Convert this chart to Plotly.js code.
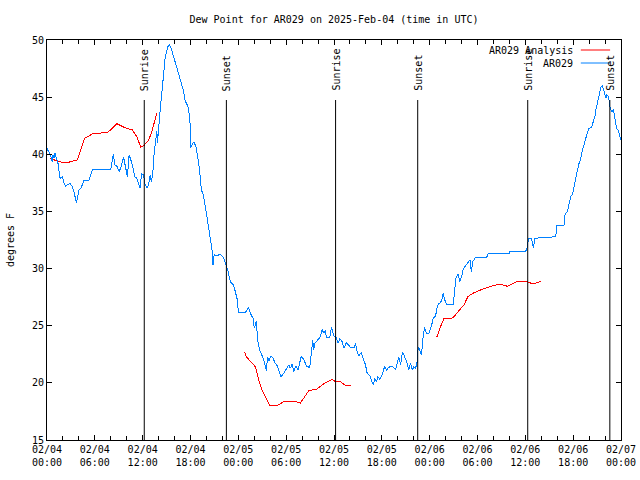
<!DOCTYPE html>
<html>
<head>
<meta charset="utf-8">
<script src="https://cdn.plot.ly/plotly-3.0.1.min.js"></script>
<style>html,body{margin:0;padding:0;background:#fff;}#chart{width:640px;height:480px;}
#chart .scatterlayer path.js-line{shape-rendering:crispEdges;}</style>
</head>
<body>
<div id="chart"></div>
<script>
// Hours since 2025-02-04 00:00 UTC
const startTime = "2025-02-04T00:00:00Z";

const obsHours = [0.0,0.25,0.46,0.67,0.75,0.88,1.0,1.17,1.38,1.63,1.92,2.14,2.35,2.55,2.89,3.18,3.39,3.69,3.9,4.02,4.31,4.65,5.28,5.7,8.0,8.2,8.33,8.5,8.75,9.05,9.33,9.59,9.76,10.09,10.3,10.59,10.84,11.02,11.27,11.56,11.68,11.85,12.1,12.31,12.6,12.81,12.94,13.1,13.28,13.44,13.66,13.78,13.85,13.98,14.2,14.41,14.61,14.82,15.11,15.33,15.54,15.87,16.29,16.71,17.12,17.34,17.75,17.96,18.05,18.25,18.47,18.72,18.93,19.13,19.35,19.64,19.85,20.06,20.27,20.48,20.69,20.82,20.98,21.23,21.73,22.15,22.36,22.65,22.99,23.4,23.62,23.83,24.03,24.87,25.29,25.5,25.84,26.0,26.26,26.42,26.67,26.97,27.18,27.39,27.51,27.68,27.85,28.1,28.35,28.64,28.94,29.18,29.36,29.7,30.03,30.32,30.53,30.74,30.95,31.2,31.5,31.87,32.2,32.54,32.96,33.17,33.33,33.46,33.58,33.96,34.3,34.51,34.71,34.92,35.05,35.46,35.68,35.97,36.18,36.31,36.47,36.6,36.72,37.02,37.22,37.56,37.85,38.07,38.57,38.69,38.91,39.11,39.41,39.74,39.95,40.16,40.49,40.67,40.92,41.12,41.33,41.5,41.75,42.05,42.34,42.59,42.88,43.3,43.72,43.93,44.13,44.35,44.6,44.85,45.1,45.39,45.6,45.82,46.02,46.23,46.44,46.57,46.77,46.98,47.2,47.36,47.61,47.9,48.2,48.45,48.74,48.95,49.16,49.37,49.58,49.7,49.87,50.08,50.96,51.13,51.29,51.55,51.8,52.01,52.18,52.43,52.64,52.93,53.06,53.23,53.39,53.77,55.15,55.32,57.96,58.08,60.05,60.26,60.39,60.77,61.02,61.18,63.82,63.94,64.86,64.99,65.29,65.49,65.7,65.92,66.12,66.33,66.54,66.74,66.96,67.17,67.37,67.59,67.8,68.0,68.3,68.5,68.72,68.84,69.06,69.26,69.47,69.69,69.89,70.1,70.22,70.44,70.64,70.82,71.07,71.23,71.44,71.65,71.86,71.99];
const obsDew = [40.5,40.2,39.9,39.35,39.94,39.65,40.08,39.65,39.2,37.9,38.04,37.46,37.23,37.31,37.46,37.17,36.73,35.71,36.29,36.88,37.11,37.75,37.75,38.63,38.69,39.35,40.0,39.06,38.98,38.48,38.98,39.79,39.06,38.04,39.94,39.35,38.63,38.04,37.9,37.31,37.03,38.28,38.19,37.31,37.03,37.6,38.19,37.6,38.39,40.14,41.6,42.04,41.0,42.48,43.94,45.39,47.14,48.45,49.33,49.62,49.33,48.45,47.58,46.56,45.54,44.66,44.08,42.62,40.58,40.96,41.02,40.58,39.56,38.69,36.94,36.35,35.48,34.6,33.73,32.85,31.69,30.29,31.25,31.1,31.25,30.95,30.52,29.94,28.86,28.56,27.98,27.4,26.14,26.14,26.58,26.09,25.65,24.77,25.44,23.75,22.88,22.29,22.06,21.42,21.07,22.29,21.94,22.35,22.15,21.71,21.42,20.84,20.55,20.84,21.28,21.57,21.28,21.65,20.98,21.48,21.13,22.29,22.06,21.48,21.33,22.88,23.75,22.88,23.46,23.75,24.04,24.69,24.34,24.63,23.96,23.96,24.87,24.1,24.04,23.9,23.52,23.6,23.9,23.6,23.02,23.52,23.31,23.11,23.11,23.46,22.73,22.35,22.64,22.0,21.57,20.84,20.63,20.25,19.82,20.4,20.1,20.55,20.32,20.69,21.42,21.13,21.36,21.48,21.13,21.71,22.29,21.57,22.73,22.29,21.85,21.13,21.71,21.13,21.42,21.28,21.85,23.16,22.88,22.44,24.19,24.86,24.34,24.34,24.92,25.65,25.85,26.67,26.96,27.02,27.4,27.89,27.31,26.9,26.9,27.98,29.15,29.53,28.86,29.3,29.88,30.17,30.4,30.6,30.75,29.73,30.6,30.99,30.99,31.28,31.28,31.51,31.51,31.92,32.65,32.65,31.77,32.65,32.79,33.73,33.81,34.75,34.98,35.71,36.29,36.53,37.31,38.04,38.63,39.21,39.65,40.38,40.81,41.4,41.98,42.27,42.36,42.85,43.29,43.87,44.6,45.48,45.86,45.98,45.48,44.9,45.19,45.04,44.02,43.73,43.87,43.0,42.27,42.13,41.54,41.25];

const anaHours = [0.4,0.67,1.5,2.35,2.97,3.8,4.23,4.73,5.7,6.53,7.58,8.0,8.75,9.67,10.7,11.27,11.77,12.19,12.69,13.1,13.44,13.78,null,24.79,25.0,25.72,26.13,26.55,26.97,27.39,27.93,28.86,29.7,30.95,31.78,32.2,32.83,33.88,34.92,35.76,36.18,36.8,37.4,38.07,null,48.74,48.95,49.37,49.79,50.63,51.05,51.67,52.3,52.8,53.56,54.4,55.24,56.07,56.91,57.75,58.8,60.26,61.0,61.93];
const anaDew = [39.65,39.56,39.35,39.24,39.33,39.5,40.38,41.4,41.78,41.84,41.92,42.13,42.68,42.36,42.13,41.54,40.61,40.79,41.19,41.84,42.8,43.64,null,22.67,22.29,21.71,21.42,20.25,19.38,18.79,18.0,18.0,18.35,18.39,18.24,18.65,19.32,19.47,20.02,20.31,20.1,20.1,19.8,19.73,null,24.1,24.1,24.92,25.62,25.59,25.79,26.32,26.82,27.55,27.89,28.13,28.33,28.54,28.63,28.45,28.83,28.83,28.65,28.89];

const sunHours = [12.2,22.5,36.2,46.5,60.3,70.6];
const sunLabels = ["Sunrise","Sunset","Sunrise","Sunset","Sunrise","Sunset"];

const seriesNames = ["AR029 Analysis","AR029"];
const seriesColors = ["#ff0000","#0080ff"];

function toDate(h) {
  if (h === null) return null;
  const d = new Date(Date.parse(startTime) + h * 3600000);
  return d.toISOString().replace("T"," ").slice(0,19);
}

const FONT = {family: "DejaVu Sans Mono, monospace", size: 10, color: "#000"};

const traces = [
  {x: anaHours.map(toDate), y: anaDew, type: "scatter", mode: "lines", name: seriesNames[0],
   line: {color: seriesColors[0], width: 1}, connectgaps: false, hoverinfo: "skip"},
  {x: obsHours.map(toDate), y: obsDew, type: "scatter", mode: "lines", name: seriesNames[1],
   line: {color: seriesColors[1], width: 1}, hoverinfo: "skip"}
];

const shapes = sunHours.map(h => ({
  type: "line", xref: "x", yref: "paper", x0: toDate(h), x1: toDate(h), y0: 0, y1: 0.85,
  line: {color: "#000", width: 1}
}));
const annotations = sunHours.map((h, i) => ({
  x: toDate(h), xref: "x", y: 0.87, yref: "paper", text: sunLabels[i], textangle: -90,
  showarrow: false, xanchor: "center", yanchor: "bottom", font: FONT, borderpad: 0
}));

// gnuplot-style key: text right-aligned, sample line to the right
const keyRows = [0.975, 0.9425];
seriesNames.forEach((n, i) => {
  annotations.push({x: 0.918, xref: "paper", y: keyRows[i], yref: "paper", text: n,
    showarrow: false, xanchor: "right", yanchor: "middle", font: FONT, borderpad: 0});
  shapes.push({type: "line", xref: "paper", yref: "paper", x0: 0.930, x1: 0.981,
    y0: keyRows[i], y1: keyRows[i], line: {color: seriesColors[i], width: 1}});
});

const layout = {
  width: 640, height: 480,
  margin: {l: 47, r: 19, t: 40, b: 40},
  paper_bgcolor: "#fff", plot_bgcolor: "#fff",
  font: FONT,
  showlegend: false,
  title: {text: "Dew Point for AR029 on 2025-Feb-04 (time in UTC)", font: FONT,
    x: 0.5, xref: "paper", xanchor: "center", y: 1 - 19/480, yref: "container", yanchor: "middle"},
  xaxis: {
    type: "date", range: [toDate(0), toDate(72)],
    dtick: 6 * 3600000, tick0: toDate(0), tickformat: "%m/%d<br>%H:%M",
    ticks: "inside", ticklen: 5, tickcolor: "#000", tickwidth: 1,
    minor: {dtick: 2 * 3600000, ticks: "inside", ticklen: 4, tickcolor: "#000", tickwidth: 1, showgrid: false},
    showline: true, linecolor: "#000", linewidth: 1, mirror: "ticks",
    showgrid: false, zeroline: false, tickfont: FONT
  },
  yaxis: {
    range: [15, 50], dtick: 5, tick0: 15,
    ticks: "inside", ticklen: 5, tickcolor: "#000", tickwidth: 1,
    showline: true, linecolor: "#000", linewidth: 1, mirror: "ticks",
    showgrid: false, zeroline: false, tickfont: FONT,
    title: {text: "degrees F", font: FONT, standoff: 15}
  },
  shapes: shapes,
  annotations: annotations
};

Plotly.newPlot("chart", traces, layout, {staticPlot: true, displayModeBar: false});
</script>
</body>
</html>
